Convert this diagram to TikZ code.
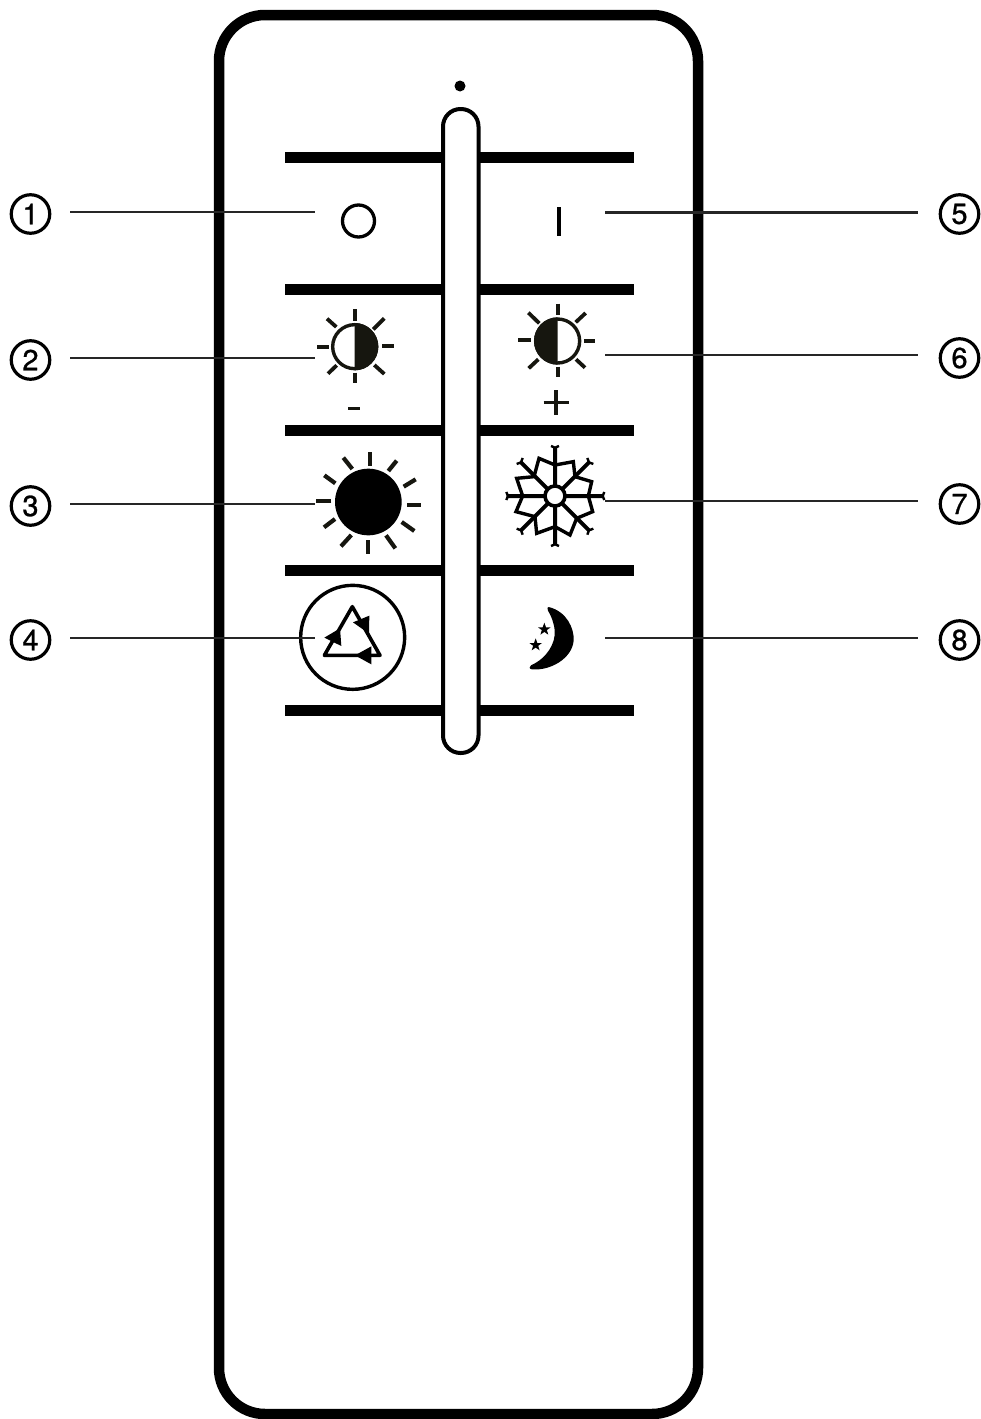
\documentclass[tikz,border=0pt]{standalone}
\usepackage{fontspec}
\setmainfont{TeX Gyre Heros}
\newfontfamily\numfont[FakeBold=0.9]{TeX Gyre Heros}
\definecolor{ink}{HTML}{16160F}
\tikzset{
  num/.style={circle,draw,line width=3.2pt,minimum size=38.5pt,inner sep=0pt,font=\numfont\fontsize{29}{29}\selectfont},
  lead/.style={line width=2.2pt,draw=black!85},
  bar/.style={line width=11pt},
  ray/.style={line width=3.8pt,draw=ink},
  thick ray/.style={line width=4.2pt,draw=ink},
  zoomA/.style={shift={(280,290)},x=0.33333pt,y=-0.33333pt},
  zoomB/.style={shift={(280,570)},x=0.33333pt,y=-0.33333pt},
}
\begin{document}
\begin{tikzpicture}[x=1pt,y=-1pt]
\useasboundingbox (0,0) rectangle (981,1419);
% body
\draw[line width=10.5pt,rounded corners=46pt] (219,15) rectangle (698,1414);
\fill (460,86) circle (5.5);
% bars
\foreach \y in {157,289.5,430,570.5,710.5}
  \draw[bar] (285,\y) -- (634,\y);
% slider
\draw[line width=4pt,fill=white,rounded corners=17.5pt] (443,109) rectangle (478.5,753);
% OFF / ON
\draw[line width=3.3pt] (358.5,221) circle (16);
\draw[line width=3.8pt] (559,207) -- (559,236);
\begin{scope}[zoomA]
  % sun minus
  \draw[line width=3.4pt,draw=ink] (224,170) circle (66);
  \fill[ink] (224,99) arc (-90:90:71) -- cycle;
  \foreach \a/\b/\c/\d in {224/58/224/92,280/118/313/85,306/167/343/167,283/225/313/252,224/248/224/279,170/226/144/251,112/170/147/170,169/111/141/86}
    \draw[ray] (\a,\b) -- (\c,\d);
  \draw[line width=3.2pt,draw=ink] (204,356) -- (241,356);
  % sun plus
  \draw[line width=3.4pt,draw=ink] (833,153) circle (66);
  \fill[ink] (833,82) arc (-90:-270:71) -- cycle;
  \foreach \a/\b/\c/\d in {833/41/833/75,887/97/917/69,912/153/946/153,888/208/915/233,833/230/833/262,775/208/746/235,714/151/752/151,778/100/745/68}
    \draw[ray] (\a,\b) -- (\c,\d);
  \draw[line width=3.2pt,draw=ink] (791,337) -- (866,337) (828,300) -- (828,375);
  % full sun
  \fill (265,636) circle (100);
  \foreach \a/\b/\c/\d in {270/487/270/528,325/543/350/512,371/590/407/568,381/644/423/644,365/696/403/723,318/736/346/775,265/750/265/793,214/735/183/769,165/687/132/712,154/633/107/633,166/580/133/556,217/537/190/503}
    \draw[thick ray] (\a,\b) -- (\c,\d);
  % snowflake
  \draw[line width=3.4pt,line join=miter] (825,525) -- (777,505) -- (762,560) -- (710,565) -- (728,618) -- (708,665) -- (765,680) -- (770,730) -- (825,710) -- (870,735) -- (890,685) -- (938,665) -- (925,618) -- (935,575) -- (885,560) -- (880,515) -- cycle;
  \draw[line width=4pt] (680,618) -- (970,618) (825,472) -- (825,764) (722,516) -- (928,722) (928,516) -- (722,722);
  \draw[line width=2.4pt]
    (679,606) -- (684,618) -- (679,630)
    (973,606) -- (968,618) -- (973,630)
    (813,468) -- (825,473) -- (837,468)
    (813,768) -- (825,763) -- (837,768)
    (710,522) -- (723,517) -- (728,504)
    (940,522) -- (927,517) -- (922,504)
    (710,716) -- (723,721) -- (728,734)
    (940,716) -- (927,721) -- (922,734);
  \draw[line width=3.6pt,fill=white] (825,618) circle (30);
\end{scope}
\begin{scope}[zoomB]
  % recycle
  \draw[line width=3.4pt] (218,202) circle (156);
  \draw[line width=3.6pt,line join=round] (217,110) -- (300,256) -- (133,256) -- cycle;
  \fill (219,157) -- (268,137) -- (267,191) -- cycle;
  \fill (133,203) -- (180,175) -- (184,228) -- cycle;
  \fill (225,256) -- (274,229) -- (274,283) -- cycle;
  % moon
  \fill (806,111) .. controls (860,124) and (883,175) .. (881,212) .. controls (876,266) and (810,303) .. (756,298) .. controls (747,297) and (747,290) .. (753,286) .. controls (800,265) and (828,220) .. (824,180) .. controls (821,155) and (813,137) .. (804,122) .. controls (801,115) and (802,111) .. (806,111) -- cycle;
  \foreach \cx/\cy in {793/178,767/225}
    \fill (\cx,\cy-20) -- (\cx+5,\cy-6) -- (\cx+19,\cy-6) -- (\cx+7.6,\cy+2.3) -- (\cx+11.8,\cy+16) -- (\cx,\cy+7.8)
      -- (\cx-11.8,\cy+16) -- (\cx-7.6,\cy+2.3) -- (\cx-19,\cy-6) -- (\cx-5,\cy-6) -- cycle;
\end{scope}
% callouts
\node[num] (n1) at (30.5,214) {1};
\node[num] (n2) at (30.5,360) {2};
\node[num] (n3) at (30.5,506) {3};
\node[num] (n4) at (30.5,640) {4};
\node[num] (n5) at (959.5,214) {5};
\node[num] (n6) at (959.5,358) {6};
\node[num] (n7) at (959.5,504) {7};
\node[num] (n8) at (959.5,640) {8};
\foreach \i/\y in {1/212,2/358,3/504,4/638}{
  \coordinate (ls\i) at (70,\y);
  \coordinate (le\i) at (315,\y);
  \draw[lead] (ls\i) -- (le\i);
}
\foreach \i/\y in {5/212.5,6/355,7/501,8/638}{
  \coordinate (rs\i) at (605,\y);
  \coordinate (re\i) at (918,\y);
  \draw[lead] (rs\i) -- (re\i);
}
\end{tikzpicture}
\end{document}
